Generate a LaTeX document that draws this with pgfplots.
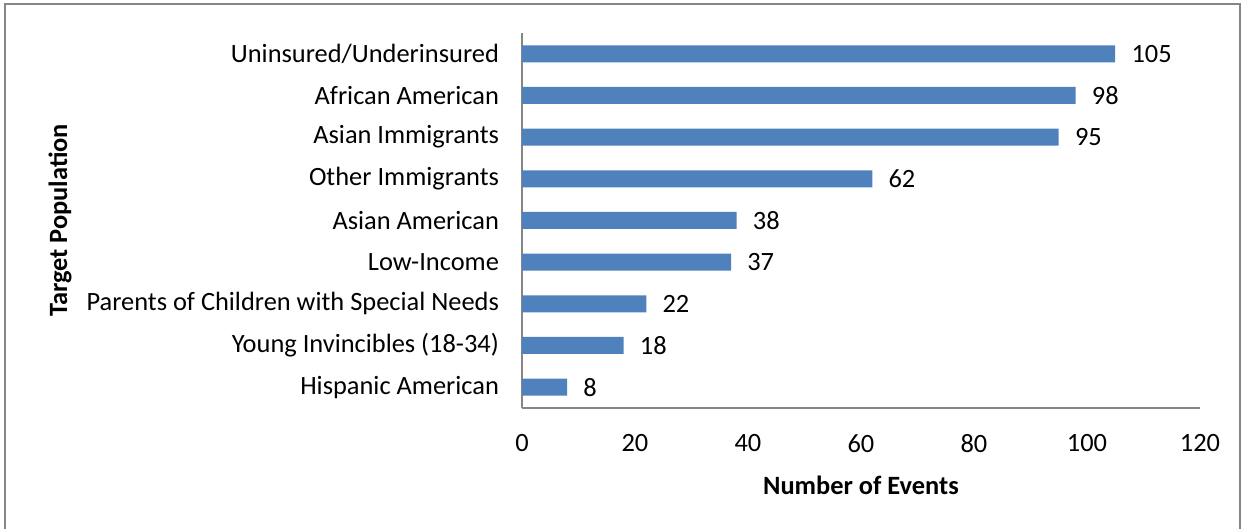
\documentclass[border=0pt]{standalone}
\usepackage{fontspec}
\setmainfont{Carlito}
\usepackage{pgfplots}
\pgfplotsset{compat=1.18}
\definecolor{barblue}{RGB}{79,129,189}
\definecolor{axgray}{RGB}{134,134,134}
\newcommand{\fs}{\fontsize{13.2}{16}\selectfont}
\begin{document}
\begin{tikzpicture}
\useasboundingbox (-261pt,-60.5pt) rectangle (361pt,204pt);
\draw[axgray, line width=1pt] (-258.5pt,-70pt) -- (-258.5pt,202pt) -- (359pt,202pt) -- (359pt,-70pt);
\begin{axis}[
  scale only axis,
  width=339pt, height=187.5pt,
  anchor=south west, at={(0,0)},
  xbar, bar width=8.5pt,
  xmin=0, xmax=120,
  ymin=-0.5, ymax=8.5,
  xtick={0,20,40,60,80,100,120},
  ytick={0,...,8},
  yticklabels={Hispanic American, Young Invincibles (18-34), Parents of Children with Special Needs, Low-Income, Asian American, Other Immigrants, Asian Immigrants, African American, Uninsured/Underinsured},
  axis x line*=bottom, axis y line*=left,
  axis line style={axgray, line width=1pt, -},
  major tick length=0pt,
  /pgf/number format/assume math mode=true,
  tick label style={font=\fs, text=black},
  yticklabel style={xshift=-8pt},
  xticklabel style={yshift=-9.6pt},
  xlabel={Number of Events},
  ylabel={Target Population},
  label style={font=\fs\bfseries},
  xlabel style={at={(axis description cs:0.5,-0.2053)}, anchor=center},
  ylabel style={at={(axis description cs:-0.6814,0.5)}, anchor=center},
  nodes near coords,
  nodes near coords style={font=\fs, anchor=west, xshift=4.6pt, text=black},
  clip=false,
]
\addplot[fill=barblue, draw=none] coordinates {
(8,0) (18,1) (22,2) (37,3) (38,4) (62,5) (95,6) (98,7) (105,8)
};
\end{axis}
\end{tikzpicture}
\end{document}
